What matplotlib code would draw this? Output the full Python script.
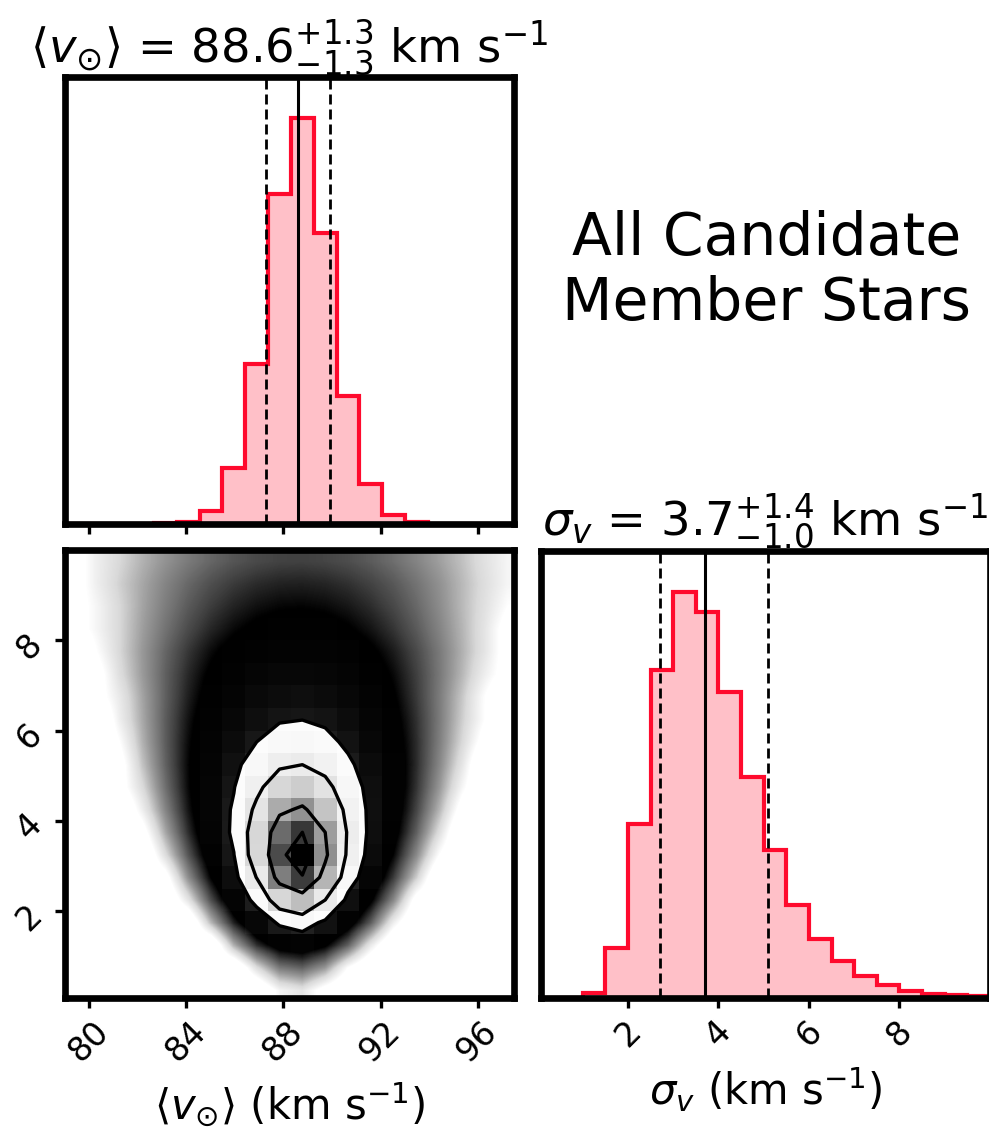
import numpy as np
import matplotlib

matplotlib.use("Agg")
import matplotlib.pyplot as plt
from matplotlib.colors import LinearSegmentedColormap, Normalize


# histogram bins (systemic velocity and velocity dispersion)
v_edges = np.linspace(78.9, 97.72, 21)
sigma_edges = np.linspace(0.0, 10.0, 21)

# marginal posteriors, relative to the tallest bin
v_hist = [0, 0, 0, 0, 0.002, 0.004, 0.033, 0.137, 0.393, 0.811,
          1.0, 0.716, 0.316, 0.098, 0.022, 0.004, 0.001, 0, 0, 0]
sigma_hist = [0, 0, 0.012, 0.122, 0.427, 0.806, 1.0, 0.951, 0.753, 0.544,
              0.365, 0.230, 0.145, 0.090, 0.055, 0.033, 0.018, 0.011, 0.007, 0.004]

# joint sample counts: one row per sigma bin (bottom to top), one column per v bin
joint_counts = [
    [0, 0, 0, 0, 0, 0, 0, 0, 0, 3, 6, 1, 0, 0, 0, 0, 0, 0, 0, 0],
    [0, 0, 0, 0, 0, 0, 0, 0, 8, 84, 144, 41, 2, 0, 0, 0, 0, 0, 0, 0],
    [0, 0, 0, 0, 0, 0, 0, 24, 402, 2003, 2901, 1222, 150, 5, 0, 0, 0, 0, 0, 0],
    [0, 0, 0, 0, 0, 0, 20, 539, 5385, 19755, 26667, 13236, 2419, 163, 4, 0, 0, 0, 0, 0],
    [0, 0, 0, 0, 0, 6, 222, 3393, 22689, 66447, 85145, 47749, 11712, 1259, 59, 1, 0, 0, 0, 0],
    [0, 0, 0, 0, 1, 50, 995, 9842, 48634, 119930, 147716, 90843, 27889, 4278, 328, 13, 0, 0, 0, 0],
    [0, 0, 0, 0, 8, 188, 2393, 16866, 65768, 141948, 169514, 112032, 40981, 8292, 929, 57, 2, 0, 0, 0],
    [0, 0, 0, 1, 28, 424, 3807, 20495, 66288, 128653, 149936, 104916, 44066, 11117, 1683, 153, 8, 0, 0, 0],
    [0, 0, 0, 4, 63, 669, 4522, 19613, 54495, 97102, 110950, 81284, 38185, 11497, 2221, 275, 22, 1, 0, 0],
    [0, 0, 1, 9, 106, 842, 4519, 16400, 40268, 66911, 75229, 57229, 29464, 10258, 2419, 386, 42, 3, 0, 0],
    [0, 0, 1, 16, 142, 890, 3937, 12334, 27334, 42861, 47549, 37322, 20722, 8144, 2263, 445, 62, 6, 0, 0],
    [0, 0, 2, 23, 159, 814, 3069, 8497, 17282, 25813, 28318, 22815, 13500, 5867, 1872, 439, 76, 10, 1, 0],
    [0, 0, 4, 28, 161, 700, 2303, 5745, 10864, 15575, 16924, 13941, 8705, 4120, 1479, 402, 83, 13, 2, 0],
    [0, 1, 5, 31, 150, 563, 1651, 3766, 6693, 9263, 9985, 8382, 5480, 2790, 1107, 342, 82, 15, 2, 0],
    [0, 1, 8, 38, 150, 472, 1197, 2443, 4019, 5323, 5680, 4882, 3380, 1885, 847, 306, 89, 21, 4, 1],
    [0, 2, 10, 40, 133, 363, 817, 1525, 2356, 3012, 3188, 2793, 2025, 1216, 604, 248, 85, 24, 6, 1],
    [1, 3, 10, 35, 99, 240, 492, 852, 1250, 1553, 1633, 1453, 1095, 698, 377, 172, 67, 22, 6, 1],
    [1, 3, 10, 31, 78, 172, 324, 528, 742, 899, 940, 848, 659, 442, 256, 128, 55, 20, 7, 2],
    [1, 4, 12, 29, 65, 128, 222, 338, 453, 535, 556, 508, 409, 290, 181, 99, 48, 20, 8, 3],
    [1, 4, 10, 23, 46, 83, 133, 192, 248, 287, 296, 274, 227, 168, 111, 66, 35, 17, 7, 3],
]

# 16th, 50th and 84th percentiles
v_quantiles = [87.3, 88.6, 89.9]
sigma_quantiles = [2.7, 3.7, 5.1]

v_ticks = [80, 84, 88, 92, 96]
sigma_ticks = [2, 4, 6, 8]
v_limits = (79.0, 97.5)
sigma_limits = (0.08, 10.0)

v_name = r"\langle v_{\odot}\rangle"
sigma_name = r"\sigma_v"
unit = r"km s$^{-1}$"
note = "All Candidate\nMember Stars"

HIST_FILL = "#ffc0c8"
HIST_EDGE = "#ff0a2d"
SPINE_WIDTH = 4.8


def _title(name, q):
    lo, mid, hi = q
    return (rf"${name}$ = ${mid:.1f}^{{+{hi - mid:.1f}}}_{{-{mid - lo:.1f}}}$ "
            + unit)


def _style(ax):
    for spine in ax.spines.values():
        spine.set_linewidth(SPINE_WIDTH)
    ax.tick_params(direction="out", length=7, width=2.4, labelsize=24, pad=5)


def draw_marginal(ax, values, edges, quantiles, limits, ticks, name, show_labels):
    values = np.asarray(values, dtype=float)
    ax.stairs(values, edges, fill=True, color=HIST_FILL, lw=0)
    ax.stairs(values, edges, color=HIST_EDGE, lw=3.0)
    for q, style in zip(quantiles, ["--", "-", "--"]):
        if style == "--":
            ax.axvline(q, color="k", lw=2.0, ls=(0, (3.6, 1.8)))
        else:
            ax.axvline(q, color="k", lw=2.2)
    ax.set_xlim(*limits)
    ax.set_ylim(0, 1.1 * values.max())
    ax.set_yticks([])
    ax.set_xticks(ticks)
    ax.set_title(_title(name, quantiles), fontsize=33.5, pad=0)
    _style(ax)
    if show_labels:
        ax.tick_params(axis="x", labelrotation=45)
    else:
        ax.set_xticklabels([])


def draw_joint(ax):
    counts = np.asarray(joint_counts, dtype=float)
    v_mid = 0.5 * (v_edges[1:] + v_edges[:-1])
    s_mid = 0.5 * (sigma_edges[1:] + sigma_edges[:-1])

    # dense sample cloud, shaded on a logarithmic scale
    log_counts = np.log10(np.where(counts > 0, counts, 0.3))
    cloud = LinearSegmentedColormap.from_list(
        "cloud", [(0.0, "white"), (0.26, "#d9d9d9"), (0.48, "#999999"),
                  (0.63, "#737373"), (0.81, "#404040"), (1.0, "black")])
    ax.imshow(log_counts, origin="lower", aspect="auto", cmap=cloud,
              norm=Normalize(vmin=0.3, vmax=3.0),
              extent=(v_edges[0], v_edges[-1], sigma_edges[0], sigma_edges[-1]),
              interpolation="bilinear", zorder=0)

    # credible-region levels (0.5, 1, 1.5 and 2 sigma)
    levels = 1.0 - np.exp(-0.5 * np.arange(0.5, 2.1, 0.5) ** 2)
    flat = np.sort(counts.ravel())[::-1]
    cum = np.cumsum(flat) / flat.sum()
    V = np.array([flat[cum <= lv][-1] for lv in levels])
    V.sort()

    ax.contourf(v_mid, s_mid, counts, [V.min(), counts.max()], colors="white",
                antialiased=False, zorder=1)
    density = LinearSegmentedColormap.from_list("density", [(0, 0, 0, 1), (1, 1, 1, 0)])
    ax.pcolormesh(v_edges, sigma_edges, counts.max() - counts, cmap=density, zorder=2)
    ax.contour(v_mid, s_mid, counts, V, colors="k", linewidths=2.4, zorder=3)

    ax.set_xlim(*v_limits)
    ax.set_ylim(*sigma_limits)
    ax.set_xticks(v_ticks)
    ax.set_yticks(sigma_ticks)
    _style(ax)
    ax.tick_params(axis="both", labelrotation=45)
    ax.set_xlabel(rf"${v_name}$ ({unit})", fontsize=30, labelpad=9)


fig = plt.figure(figsize=(9.89, 11.45), dpi=100)
ax_v = fig.add_axes([65 / 989, 1 - 524 / 1145, 449 / 989, 447 / 1145])
ax_joint = fig.add_axes([65 / 989, 1 - 998 / 1145, 449 / 989, 448 / 1145])
ax_sigma = fig.add_axes([541 / 989, 1 - 998 / 1145, 449 / 989, 447 / 1145])

draw_marginal(ax_v, v_hist, v_edges, v_quantiles, v_limits, v_ticks, v_name, False)
draw_joint(ax_joint)
draw_marginal(ax_sigma, sigma_hist, sigma_edges, sigma_quantiles, sigma_limits,
              sigma_ticks, sigma_name, True)
ax_sigma.set_xlabel(rf"${sigma_name}$ ({unit})", fontsize=30, labelpad=9)

fig.text(767 / 989, 1 - 271 / 1145, note, ha="center", va="center",
         fontsize=42, linespacing=1.17)

fig.savefig("out.png", dpi=100)
